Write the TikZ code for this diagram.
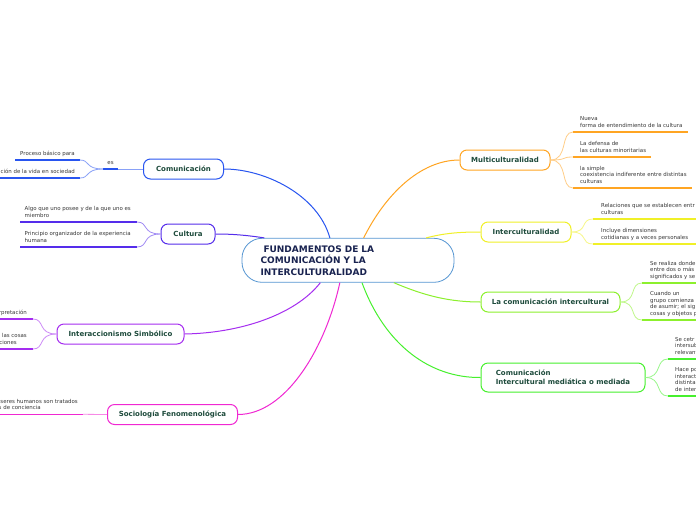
\documentclass[tikz,border=0pt]{standalone}
\usepackage{fontspec}
\setmainfont{DejaVu Sans}
\definecolor{cCom}{RGB}{40,85,240}
\definecolor{cCul}{RGB}{85,45,235}
\definecolor{cInt}{RGB}{165,45,240}
\definecolor{cSoc}{RGB}{240,40,210}
\definecolor{cMul}{RGB}{255,165,35}
\definecolor{cInc}{RGB}{240,240,40}
\definecolor{cLac}{RGB}{140,240,45}
\definecolor{cMed}{RGB}{70,240,45}
\definecolor{cCen}{RGB}{85,150,210}
\definecolor{tNode}{RGB}{30,75,60}
\definecolor{tCen}{RGB}{25,35,80}
\definecolor{tLeaf}{RGB}{55,55,55}
\newcommand{\dpt}{\rule[-4.6pt]{0pt}{0pt}}
\begin{document}
\begin{tikzpicture}[x=1pt,y=-1pt,
  topicbox/.style={draw=#1, line width=1pt, rounded corners=7pt, fill=white, text=tNode,
    font=\fontsize{7}{9}\selectfont\bfseries, minimum height=20pt, inner sep=0pt},
  centerbox/.style={draw=cCen, line width=0.8pt, rounded corners=20pt, fill=white, text=tCen,
    font=\fontsize{9}{11.5}\selectfont\bfseries, minimum width=212pt, minimum height=44pt,
    text width=175pt, align=left, inner xsep=18.5pt, inner ysep=0pt},
  mainlink/.style={draw=#1, line width=1pt},
  twig/.style={draw=#1!55!white, line width=0.8pt},
  uline/.style={draw=#1, line width=1.5pt},
  leaftext/.style={inner sep=0pt, align=left, text=tLeaf, font=\fontsize{5.45}{6.5}\selectfont},
]
\useasboundingbox (0,0) rectangle (696,520);
\fill[white] (0,0) rectangle (696,520);
\clip (0,0) rectangle (696,520);

% central and main topics
\node[centerbox] (c) at (348,260.3) {\hspace*{3pt}FUNDAMENTOS DE LA\\COMUNICACIÓN Y LA\\INTERCULTURALIDAD};
\node[topicbox=cCom, minimum width=80pt] (com) at (183.5,169) {Comunicación};
\node[topicbox=cCul, minimum width=54pt] (cul) at (188,234) {Cultura};
\node[topicbox=cInt, minimum width=127pt] (isim) at (120.5,334) {Interaccionismo Simbólico};
\node[topicbox=cSoc, minimum width=130pt] (soc) at (172.5,414.5) {Sociología Fenomenológica};
\node[topicbox=cMul, minimum width=90pt] (mul) at (505,160) {Multiculturalidad};
\node[topicbox=cInc, minimum width=90pt] (inc) at (526,232) {Interculturalidad};
\node[topicbox=cLac, minimum width=139pt] (lac) at (550.5,302) {La comunicación intercultural};
\node[topicbox=cMed, minimum width=164pt, minimum height=29pt, align=left] (med) at (563,377.5) {Comunicación\\Intercultural mediática o mediada};

% main connectors
\draw[mainlink=cCom] (c.129.3) .. controls (318,195) and (265,169) .. (com.east);
\draw[mainlink=cCul] (c.165.5) .. controls (245,235) and (232,234) .. (cul.east);
\draw[mainlink=cInt] (c.219.2) .. controls (295,315) and (240,333) .. (isim.east);
\draw[mainlink=cSoc] (c.250) .. controls (325,350) and (285,414.5) .. (soc.east);
\draw[mainlink=cMul] (c.55.7) .. controls (385,195) and (420,160) .. (mul.west);
\draw[mainlink=cInc] (c.16.3) .. controls (445,233) and (460,232) .. (inc.west);
\draw[mainlink=cLac] (c.334) .. controls (425,296) and (450,302) .. (lac.west);
\draw[mainlink=cMed] (c.302.5) .. controls (385,345) and (430,378) .. (med.west);

% Comunicacion leaves
\node[leaftext, anchor=south] (es) at (110.5,169) {es\dpt};
\draw[uline=cCom] ([xshift=-7.5pt]es.south) -- ([xshift=7.5pt]es.south);
\draw[twig=cCom] (com.west) -- ([xshift=7.5pt]es.south);
\node[leaftext, anchor=south west] (c1) at (20,160) {Proceso básico para\dpt};
\draw[uline=cCom] ([xshift=-5pt]c1.south west) -- ++(65,0);
\node[leaftext, anchor=south east] (c2) at (75,178) {ción de la vida en sociedad\dpt};
\draw[uline=cCom] ([xshift=5pt]c2.south east) -- ++(-90,0);
\draw[twig=cCom] ([xshift=-7.5pt]es.south) .. controls +(-18,0) and +(10,0) .. ([xshift=60pt]c1.south west);
\draw[twig=cCom] ([xshift=-7.5pt]es.south) .. controls +(-18,0) and +(10,0) .. ([xshift=5pt]c2.south east);

% Cultura leaves
\node[leaftext, anchor=south west] (u1) at (24.5,222) {Algo que uno posee y de la que uno es\\miembro\dpt};
\draw[uline=cCul] ([xshift=-4.5pt]u1.south west) -- ++(117,0);
\node[leaftext, anchor=south west] (u2) at (24.5,247) {Principio organizador de la experiencia\\humana\dpt};
\draw[uline=cCul] ([xshift=-4.5pt]u2.south west) -- ++(117,0);
\draw[twig=cCul] (cul.west) .. controls +(-19,0) and +(12,0) .. ([xshift=112.5pt]u1.south west);
\draw[twig=cCul] (cul.west) .. controls +(-19,0) and +(12,0) .. ([xshift=112.5pt]u2.south west);

% Interaccionismo leaves
\node[leaftext, anchor=south east] (i1) at (27,319) {rpretación\dpt};
\draw[uline=cInt] ([xshift=6pt]i1.south east) -- ++(-40,0);
\node[leaftext, anchor=south east, align=right] (i2) at (27,349) {las cosas\\ciones\rule{10pt}{0pt}\dpt};
\draw[uline=cInt] ([xshift=6pt]i2.south east) -- ++(-40,0);
\draw[twig=cInt] (isim.west) .. controls +(-19,0) and +(12,0) .. ([xshift=6pt]i1.south east);
\draw[twig=cInt] (isim.west) .. controls +(-19,0) and +(12,0) .. ([xshift=6pt]i2.south east);

% Sociologia leaf
\node[leaftext, anchor=south east, align=right] (s1) at (78,414.3) {seres humanos son tratados\\s de conciencia\rule{37pt}{0pt}\dpt};
\draw[uline=cSoc] ([xshift=5pt]s1.south east) -- ++(-90,0);
\draw[twig=cSoc] (soc.west) -- ([xshift=5pt]s1.south east);

% Multiculturalidad leaves
\node[leaftext, anchor=south west] (m1) at (580,132) {Nueva\\forma de entendimiento de la cultura\dpt};
\draw[uline=cMul] ([xshift=-7pt]m1.south west) -- ++(115,0);
\node[leaftext, anchor=south west] (m2) at (580,157) {La defensa de\\las culturas minoritarias\dpt};
\draw[uline=cMul] ([xshift=-7pt]m2.south west) -- ++(78,0);
\node[leaftext, anchor=south west] (m3) at (580,188) {la simple\\coexistencia indiferente entre distintas\\culturas\dpt};
\draw[uline=cMul] ([xshift=-7pt]m3.south west) -- ++(119,0);
\foreach \n in {m1,m2,m3}
  \draw[twig=cMul] (mul.east) .. controls +(18,0) and +(-13,0) .. ([xshift=-7pt]\n.south west);

% Interculturalidad leaves
\node[leaftext, anchor=south west] (n1) at (601,219) {Relaciones que se establecen entr\\culturas\dpt};
\draw[uline=cInc] ([xshift=-8pt]n1.south west) -- ++(130,0);
\node[leaftext, anchor=south west] (n2) at (601,244) {Incluye dimensiones\\cotidianas y a veces personales\dpt};
\draw[uline=cInc] ([xshift=-8pt]n2.south west) -- ++(130,0);
\foreach \n in {n1,n2}
  \draw[twig=cInc] (inc.east) .. controls +(17,0) and +(-13,0) .. ([xshift=-8pt]\n.south west);

% La comunicacion intercultural leaves
\node[leaftext, anchor=south west] (l1) at (650,283) {Se realiza donde\\entre dos o más\\significados y se\dpt};
\draw[uline=cLac] ([xshift=-8pt]l1.south west) -- ++(80,0);
\node[leaftext, anchor=south west] (l2) at (650,320) {Cuando un\\grupo comienza\\de asumir; el sig\\cosas y objetos p\dpt};
\draw[uline=cLac] ([xshift=-8pt]l2.south west) -- ++(80,0);
\foreach \n in {l1,l2}
  \draw[twig=cLac] (lac.east) .. controls +(17,0) and +(-13,0) .. ([xshift=-8pt]\n.south west);

% Comunicacion intercultural mediatica leaves
\node[leaftext, anchor=south west] (d1) at (675,359) {Se cetr\\intersub\\relevant\dpt};
\draw[uline=cMed] ([xshift=-7pt]d1.south west) -- ++(60,0);
\node[leaftext, anchor=south west] (d2) at (675,396) {Hace po\\interact\\distinta\\de inter\dpt};
\draw[uline=cMed] ([xshift=-7pt]d2.south west) -- ++(60,0);
\foreach \n in {d1,d2}
  \draw[twig=cMed] (med.east) .. controls +(17,0) and +(-13,0) .. ([xshift=-7pt]\n.south west);
\end{tikzpicture}
\end{document}
